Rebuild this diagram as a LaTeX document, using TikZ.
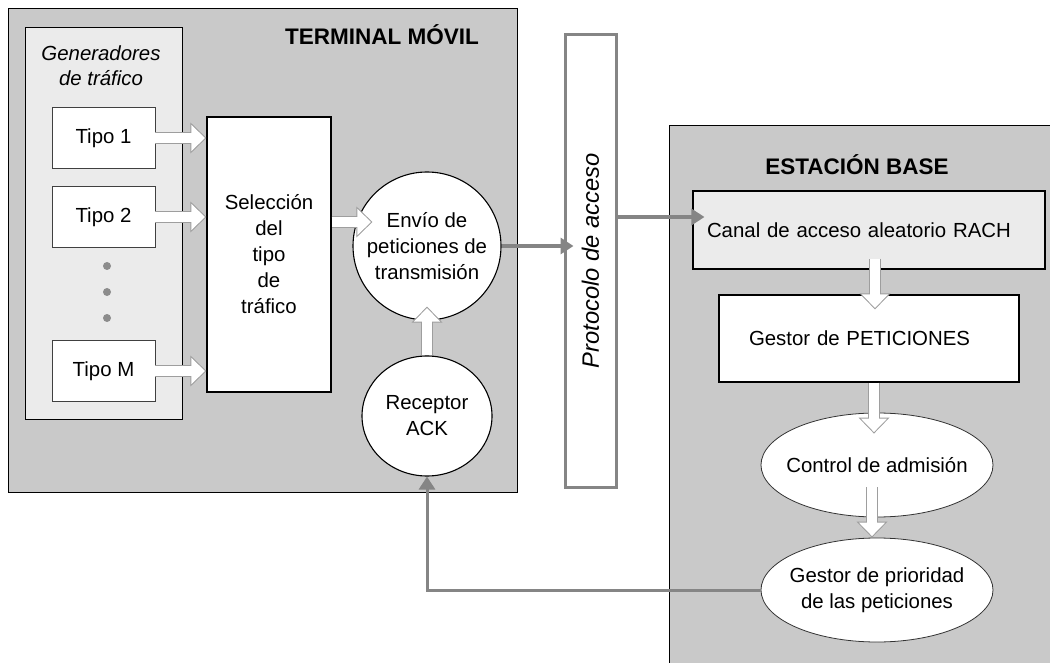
\documentclass[tikz,border=0pt]{standalone}
\usepackage{fontspec}
\setmainfont{Liberation Sans}
\usetikzlibrary{shapes.geometric,arrows.meta}
\begin{document}
\begin{tikzpicture}[x=1pt,y=-1pt]
  \tikzset{txt/.style={font=\fontsize{20.4}{26}\selectfont,align=center},
    panel/.style={draw,line width=1.2pt,fill=black!21,anchor=north west,inner sep=0pt},
    innerpanel/.style={panel,line width=1.1pt,fill=black!8},
    plainbox/.style={txt,draw,line width=1.1pt,fill=white},
    tipobox/.style={txt,draw=black!75,line width=0.8pt,fill=white,minimum width=103pt,minimum height=61pt},
    oval/.style={txt,ellipse,draw=black!80,line width=0.8pt,fill=white,inner xsep=-30pt,inner ysep=0pt,
      minimum width=232pt,minimum height=104pt},
    disc/.style={txt,circle,draw,line width=1.1pt,fill=white,inner sep=0pt},
    heading/.style={font=\fontsize{22.5}{26}\selectfont\bfseries},
    hollowarrow/.style={line width=12pt,draw=black!38,-{Triangle[length=16pt,width=30pt]},
      postaction={draw=white,line width=10pt,-{Triangle[length=13.5pt,width=25.4pt]},shorten >=1.5pt}},
    grayflow/.style={draw=black!48,line width=4.5pt,-{Triangle[length=13pt,width=16pt]}}}
  \clip (0,0) rectangle (1050,663);
  \node[panel,minimum width=509pt,minimum height=484pt] (tm) at (8,8) {};
  \node[panel,minimum width=400pt,minimum height=560pt] (eb) at (669,125) {};
  \node[heading] (tmtitle) at (382,35) {TERMINAL MÓVIL};
  \node[heading] (ebtitle) at (857,165) {ESTACIÓN BASE};
  \node[innerpanel,minimum width=157pt,minimum height=392pt] (gen) at (25,27) {};
  \node[txt,font=\fontsize{20.4}{25}\selectfont\itshape] (gentitle) at (101,66) {Generadores\\de tráfico};
  \node[tipobox] (tipo1) at (103.5,138) {Tipo 1};
  \node[tipobox] (tipo2) at (103.5,217) {Tipo 2};
  \node[tipobox] (tipoM) at (103.5,371) {Tipo M};
  \foreach \y in {266,292,318}
    \fill[black!45] (107,\y) circle (4pt);
  \node[plainbox,minimum width=124pt,minimum height=275pt] (sel) at (269,254.5) {Selección\\del\\tipo\\de\\tráfico};
  \node[disc,minimum size=148pt] (env) at (427,246) {Envío de\\peticiones de\\transmisión};
  \node[disc,ellipse,minimum width=130pt,minimum height=120pt] (recv) at (427,416) {Receptor\\ACK};
  \node[txt,draw=black!48,line width=3pt,fill=white,rotate=90,minimum width=452pt,minimum height=51pt,
    font=\fontsize{23.7}{26}\selectfont\itshape] (proto) at (590.5,261) {Protocolo de acceso};
  \node[plainbox,fill=black!8,minimum width=352pt,minimum height=78pt,text width=324pt,inner xsep=14pt,
    align=left] (canal) at (869,230) {Canal de acceso aleatorio RACH};
  \node[plainbox,minimum width=300pt,minimum height=87pt,text width=240pt,inner xsep=30pt,
    align=left] (gest) at (869,338.5) {Gestor de PETICIONES};
  \node[oval] (ctrl) at (877,465) {Control de admisión};
  \node[oval] (prio) at (877,590) {Gestor de prioridad\\de las peticiones};
  \foreach \t in {tipo1,tipo2,tipoM}
    \draw[hollowarrow] (\t.east) -- (sel.west |- \t.east);
  \draw[hollowarrow] ([yshift=32.5pt]sel.east) -- ([xshift=20pt,yshift=24pt]env.west);
  \draw[hollowarrow] (recv.north) -- ([yshift=14pt]env.south);
  \draw[hollowarrow] ([xshift=6pt,yshift=11pt]canal.south) -- ([xshift=6pt,yshift=-15pt]gest.north);
  \draw[hollowarrow] ([xshift=5pt]gest.south) -- ([xshift=-3pt,yshift=-21pt]ctrl.north);
  \draw[hollowarrow] ([xshift=-5pt,yshift=30pt]ctrl.south) -- ([xshift=-5pt]prio.north);
  \draw[grayflow] (env.east) -- ([xshift=10pt]proto.north |- env.east);
  \draw[grayflow] ([yshift=13pt]proto.south |- canal.west) -- ([xshift=12pt,yshift=13pt]canal.west);
  \draw[grayflow,line width=3pt] (prio.west) -| (recv.south);
\end{tikzpicture}
\end{document}
